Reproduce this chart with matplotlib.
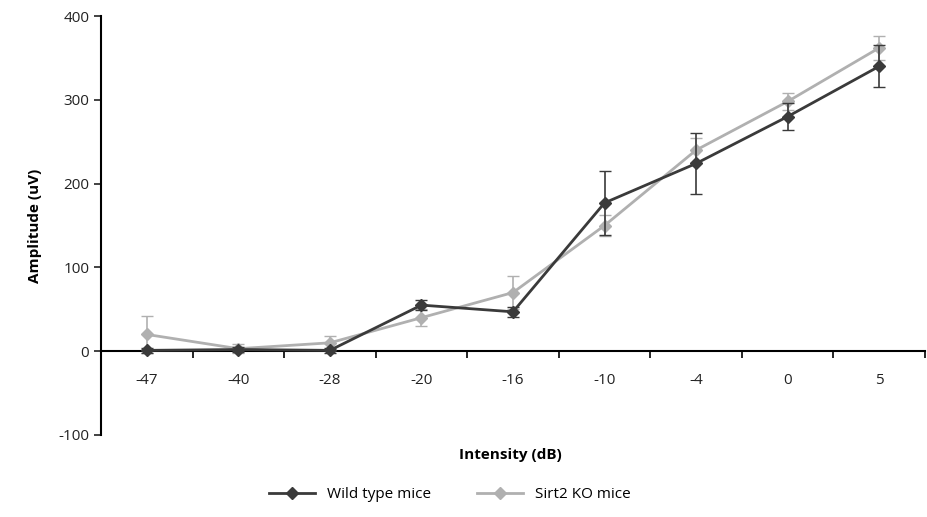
import matplotlib.pyplot as plt
from matplotlib.lines import Line2D
import numpy as np

plt.rcParams['font.family'] = ['Open Sans', 'DejaVu Sans']
plt.rcParams['axes.unicode_minus'] = False

#%%
intensity = ['-47', '-40', '-28', '-20', '-16', '-10', '-4', '0', '5']

wt_amp = [1, 2, 1, 55, 47, 177, 224, 280, 340]
wt_err = [3, 3, 3, 6, 6, 38, 36, 16, 25]

ko_amp = [20, 3, 10, 40, 70, 150, 240, 298, 362]
ko_err = [22, 5, 8, 10, 20, 12, 15, 10, 14]

wt_col = '#3a3a3a'
ko_col = '#b0b0b0'

#%%
fig = plt.figure(figsize=(9.27, 5.17), dpi=100)
ax = fig.add_axes([101/927, 1 - 435/517, 824/927, 419/517])

x = np.arange(len(intensity))

ax.errorbar(x, wt_amp, yerr=wt_err, color=wt_col, marker='D', markersize=6,
            lw=2, elinewidth=1.2, capsize=4, zorder=3)
ax.errorbar(x, ko_amp, yerr=ko_err, color=ko_col, marker='D', markersize=6,
            lw=2, elinewidth=1.2, capsize=4, zorder=2)

ax.set_xlim(-0.5, len(intensity) - 0.5)
ax.set_ylim(-100, 400)
ax.set_yticks([-100, 0, 100, 200, 300, 400])

ax.set_xticks(x)
ax.set_xticklabels(intensity)
ax.set_xticks(np.arange(-0.5, len(intensity)), minor=True)
ax.tick_params(axis='x', which='major', length=0, pad=16, labelsize=11, colors='#222222')
ax.tick_params(axis='x', which='minor', length=5, width=1.2, direction='out')
ax.tick_params(axis='y', length=5, width=1.2, labelsize=11, colors='#222222')

for s in ['top', 'right']:
    ax.spines[s].set_visible(False)
ax.spines['bottom'].set_position(('data', 0))
ax.spines['bottom'].set_linewidth(1.5)
ax.spines['left'].set_linewidth(1.5)

ax.set_ylabel('Amplitude (uV)', fontsize=11, fontweight='bold', labelpad=12)
fig.text(510/927, 1 - 455/517, 'Intensity (dB)', fontsize=11, fontweight='bold',
         ha='center', va='center')

handles = [Line2D([], [], color=wt_col, marker='D', markersize=6, lw=2),
           Line2D([], [], color=ko_col, marker='D', markersize=6, lw=2)]
fig.legend(handles, ['Wild type mice', 'Sirt2 KO mice'], loc='center',
           bbox_to_anchor=(450/927, 1 - 495/517), ncol=2,
           frameon=False, fontsize=11, handlelength=3, columnspacing=3)

plt.savefig('out.png', dpi=100)
